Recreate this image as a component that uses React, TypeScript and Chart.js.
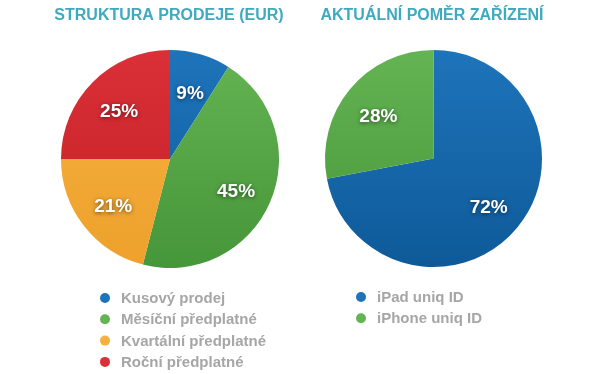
import React, { useEffect, useRef } from "react";
import { Chart, registerables } from "chart.js";

Chart.register(...registerables);

const salesTitle = "STRUKTURA PRODEJE (EUR)";
const salesLabels = ["Kusový prodej", "Měsíční předplatné", "Kvartální předplatné", "Roční předplatné"];
const salesValues = [9, 45, 21, 25];
const salesTopColors = ["#1e74ba", "#64b453", "#f5b040", "#da3038"];
const salesBottomColors = ["#0f5c9c", "#46963a", "#eea12c", "#c41f26"];

const deviceTitle = "AKTUÁLNÍ POMĚR ZAŘÍZENÍ";
const deviceLabels = ["iPad uniq ID", "iPhone uniq ID"];
const deviceValues = [72, 28];
const deviceTopColors = ["#1e74ba", "#64b453"];
const deviceBottomColors = ["#0e5a99", "#46963a"];

const FONT = "'Liberation Sans', Arial, Helvetica, sans-serif";

const overlayPlugin = {
  id: "overlay",
  afterDatasetsDraw(chart: any, _args: any, opts: any) {
    const ctx = chart.ctx;
    const meta = chart.getDatasetMeta(0);
    const data = chart.data.datasets[0].data as number[];
    const total = data.reduce((a, b) => a + b, 0);
    ctx.save();
    ctx.font = `bold 19px ${FONT}`;
    ctx.textAlign = "center";
    ctx.textBaseline = "middle";
    ctx.fillStyle = "#ffffff";
    ctx.shadowColor = "rgba(0,0,0,0.55)";
    ctx.shadowBlur = 4;
    ctx.shadowOffsetX = 0;
    ctx.shadowOffsetY = 1;
    meta.data.forEach((arc: any, i: number) => {
      const p = arc.getProps(["x", "y", "startAngle", "endAngle", "outerRadius"], true);
      const mid = (p.startAngle + p.endAngle) / 2;
      const r = p.outerRadius * opts.labelRatio;
      ctx.fillText(
        Math.round((data[i] / total) * 100) + "%",
        p.x + Math.cos(mid) * r,
        p.y + Math.sin(mid) * r + opts.labelShift
      );
    });
    ctx.restore();
  },
  afterDraw(chart: any, _args: any, opts: any) {
    const ctx = chart.ctx;
    ctx.save();
    ctx.font = `bold 16px ${FONT}`;
    ctx.textAlign = "center";
    ctx.textBaseline = "middle";
    ctx.fillStyle = "#3eaabf";
    ctx.fillText(opts.title, opts.titleX, opts.titleY);

    ctx.font = `bold 15px ${FONT}`;
    ctx.textAlign = "left";
    const labels = chart.data.labels as string[];
    labels.forEach((label: string, i: number) => {
      const y = opts.legendTop + i * opts.legendGap;
      ctx.beginPath();
      ctx.arc(opts.legendX, y, 5, 0, Math.PI * 2);
      ctx.fillStyle = opts.dotColors[i];
      ctx.fill();
      ctx.fillStyle = "#a6a6a6";
      ctx.fillText(label, opts.legendX + 16, y + 1);
    });
    ctx.restore();
  },
};

function gradientColors(top: string[], bottom: string[]) {
  return (c: any) => {
    const chart = c.chart;
    const area = chart.chartArea;
    const i = c.dataIndex ?? 0;
    if (!area) return top[i];
    const g = chart.ctx.createLinearGradient(0, area.top, 0, area.bottom);
    g.addColorStop(0, top[i]);
    g.addColorStop(1, bottom[i]);
    return g;
  };
}

function PieBox(props: {
  width: number;
  left: number;
  title: string;
  titleX: number;
  labels: string[];
  values: number[];
  top: string[];
  bottom: string[];
  padding: { left: number; right: number; top: number; bottom: number };
  legendX: number;
  legendTop: number;
}) {
  const ref = useRef<HTMLCanvasElement>(null);
  useEffect(() => {
    if (!ref.current) return;
    const chart = new Chart(ref.current, {
      type: "pie",
      data: {
        labels: props.labels,
        datasets: [
          {
            data: props.values,
            backgroundColor: gradientColors(props.top, props.bottom) as any,
            borderWidth: 0,
          },
        ],
      },
      options: {
        responsive: false,
        animation: false,
        layout: { padding: props.padding },
        plugins: {
          legend: { display: false },
          tooltip: { enabled: false },
          title: { display: false },
          overlay: {
            title: props.title,
            titleX: props.titleX,
            titleY: 16,
            legendX: props.legendX,
            legendTop: props.legendTop,
            legendGap: 21.3,
            labelRatio: 0.66,
            labelShift: 4,
            dotColors: props.top,
          },
        } as any,
      },
      plugins: [overlayPlugin],
    });
    return () => chart.destroy();
  }, []);
  return (
    <canvas
      ref={ref}
      width={props.width}
      height={374}
      style={{ position: "absolute", left: props.left, top: 0, width: props.width, height: 374 }}
    />
  );
}

export default function App() {
  return (
    <div style={{ position: "fixed", left: 0, top: 0, width: 605, height: 374, background: "#ffffff" }}>
      <PieBox
        width={302}
        left={0}
        title={salesTitle}
        titleX={169}
        labels={salesLabels}
        values={salesValues}
        top={salesTopColors}
        bottom={salesBottomColors}
        padding={{ left: 61, right: 23, top: 50, bottom: 106 }}
        legendX={105}
        legendTop={298}
      />
      <PieBox
        width={303}
        left={302}
        title={deviceTitle}
        titleX={130}
        labels={deviceLabels}
        values={deviceValues}
        top={deviceTopColors}
        bottom={deviceBottomColors}
        padding={{ left: 23, right: 63, top: 50, bottom: 107 }}
        legendX={59}
        legendTop={297}
      />
    </div>
  );
}
